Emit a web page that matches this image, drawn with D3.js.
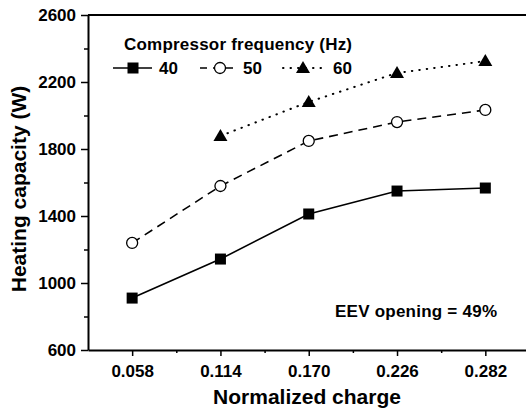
<!DOCTYPE html>
<meta charset="utf-8">
<style>
	body { margin: 0; background: #fff; }
	text { font-family: "Liberation Sans", Arial, sans-serif; font-weight: bold; fill: #000; }
</style>
<body>
<script src="https://d3js.org/d3.v7.min.js"></script>
<script>
	// chart data
	var charges = [0.058, 0.114, 0.170, 0.226, 0.282];
	var hz40 = [910, 1143, 1412, 1549, 1567];
	var hz50 = [1239, 1579, 1848, 1961, 2033];
	var hz60 = [null, 1878, 2081, 2254, 2325];
	var yTicks = [600, 1000, 1400, 1800, 2200, 2600];
	var legendTitle = "Compressor frequency (Hz)";
	var legendNames = ["40", "50", "60"];

	var series = [
		{ name: legendNames[0], values: hz40, marker: "square" },
		{ name: legendNames[1], values: hz50, marker: "circle" },
		{ name: legendNames[2], values: hz60, marker: "triangle" }
	];

	var width = 526, height = 411;
	var plotLeft = 88, plotRight = 526, plotTop = 15, plotBottom = 350;

	var svg = d3.select("body").append("svg")
		.attr("width", width)
		.attr("height", height);

	var x = d3.scaleLinear().domain([0.030, 0.3078]).range([plotLeft, plotRight]);
	var y = d3.scaleLinear().domain([600, 2600]).range([plotBottom, plotTop]);

	// frame top line
	svg.append("line")
		.attr("x1", plotLeft).attr("x2", plotRight)
		.attr("y1", plotTop).attr("y2", plotTop)
		.attr("stroke", "#000").attr("stroke-width", 2);

	// y axis
	svg.append("g")
		.attr("transform", "translate(" + plotLeft + ",0)")
		.call(d3.axisLeft(y).tickValues(yTicks).tickSize(7).tickSizeOuter(0).tickPadding(5).tickFormat(d3.format("d")));
	svg.append("g")
		.attr("transform", "translate(" + plotLeft + ",0)")
		.call(d3.axisLeft(y).tickValues(d3.range(800, 2600, 400)).tickSize(4).tickFormat(""))
		.select(".domain").remove();

	// x axis
	svg.append("g")
		.attr("transform", "translate(0," + plotBottom + ")")
		.call(d3.axisBottom(x).tickValues(charges).tickSize(6).tickSizeOuter(0).tickPadding(9)
			.tickFormat(d3.format(".3f")));
	svg.append("g")
		.attr("transform", "translate(0," + plotBottom + ")")
		.call(d3.axisBottom(x).tickValues(charges.map(function(c) { return c + 0.028; })).tickSize(3).tickFormat(""))
		.select(".domain").remove();

	svg.selectAll(".domain").attr("stroke-width", 2);
	svg.selectAll(".tick line").attr("stroke-width", 1.5);
	svg.selectAll(".tick text")
		.attr("font-size", "17px")
		.attr("font-family", "'Liberation Sans', Arial, sans-serif")
		.attr("font-weight", "bold");

	// axis titles
	svg.append("text")
		.attr("transform", "translate(26,189) rotate(-90)")
		.attr("text-anchor", "middle")
		.attr("font-size", "21px")
		.text("Heating capacity (W)");
	svg.append("text")
		.attr("x", 307).attr("y", 404)
		.attr("text-anchor", "middle")
		.attr("font-size", "21px")
		.text("Normalized charge");

	svg.append("text")
		.attr("x", 335).attr("y", 317)
		.attr("font-size", "17px")
		.attr("textLength", 162)
		.text("EEV opening = 49%");

	function drawMarker(g, type, cx, cy) {
		if (type === "square") {
			g.append("rect").attr("x", cx - 5.5).attr("y", cy - 5.5)
				.attr("width", 11).attr("height", 11).attr("fill", "#000");
		} else if (type === "circle") {
			g.append("circle").attr("cx", cx).attr("cy", cy).attr("r", 5.5)
				.attr("fill", "#fff").attr("stroke", "#000").attr("stroke-width", 1.3);
		} else {
			g.append("path")
				.attr("d", "M" + cx + "," + (cy - 7) + "L" + (cx + 7) + "," + (cy + 5) + "L" + (cx - 7) + "," + (cy + 5) + "Z")
				.attr("fill", "#000");
		}
	}

	function styleLine(sel, marker, legend) {
		sel.attr("stroke", "#000")
			.attr("fill", "none")
			.attr("stroke-width", marker === "triangle" ? 2 : 1.6)
			.attr("stroke-linecap", marker === "triangle" ? "round" : "butt")
			.attr("stroke-dasharray", marker === "triangle" ? "0.5,7" :
				marker === "circle" ? (legend ? "7,6" : "9,6") : null);
	}

	var line = d3.line()
		.defined(function(d) { return d != null; })
		.x(function(d, i) { return x(charges[i]); })
		.y(function(d) { return y(d); });

	series.forEach(function(s) {
		var g = svg.append("g");
		g.append("path")
			.attr("d", line(s.values))
			.call(styleLine, s.marker, false);
		s.values.forEach(function(v, i) {
			if (v != null) drawMarker(g, s.marker, x(charges[i]), y(v));
		});
	});

	// legend
	svg.append("text")
		.attr("x", 124).attr("y", 50)
		.attr("font-size", "17px")
		.attr("textLength", 228)
		.text(legendTitle);
	var legendX = [[113, 152, 133, 159], [200, 233, 220, 243], [283, 322, 303, 333]];
	series.forEach(function(s, i) {
		var g = svg.append("g");
		var p = legendX[i], ly = 68;
		g.append("line")
			.attr("x1", p[0]).attr("x2", p[1])
			.attr("y1", ly).attr("y2", ly)
			.call(styleLine, s.marker, true);
		drawMarker(g, s.marker, p[2], ly);
		g.append("text")
			.attr("x", p[3]).attr("y", ly + 6)
			.attr("font-size", "17px")
			.text(s.name);
	});
</script>
</body>
